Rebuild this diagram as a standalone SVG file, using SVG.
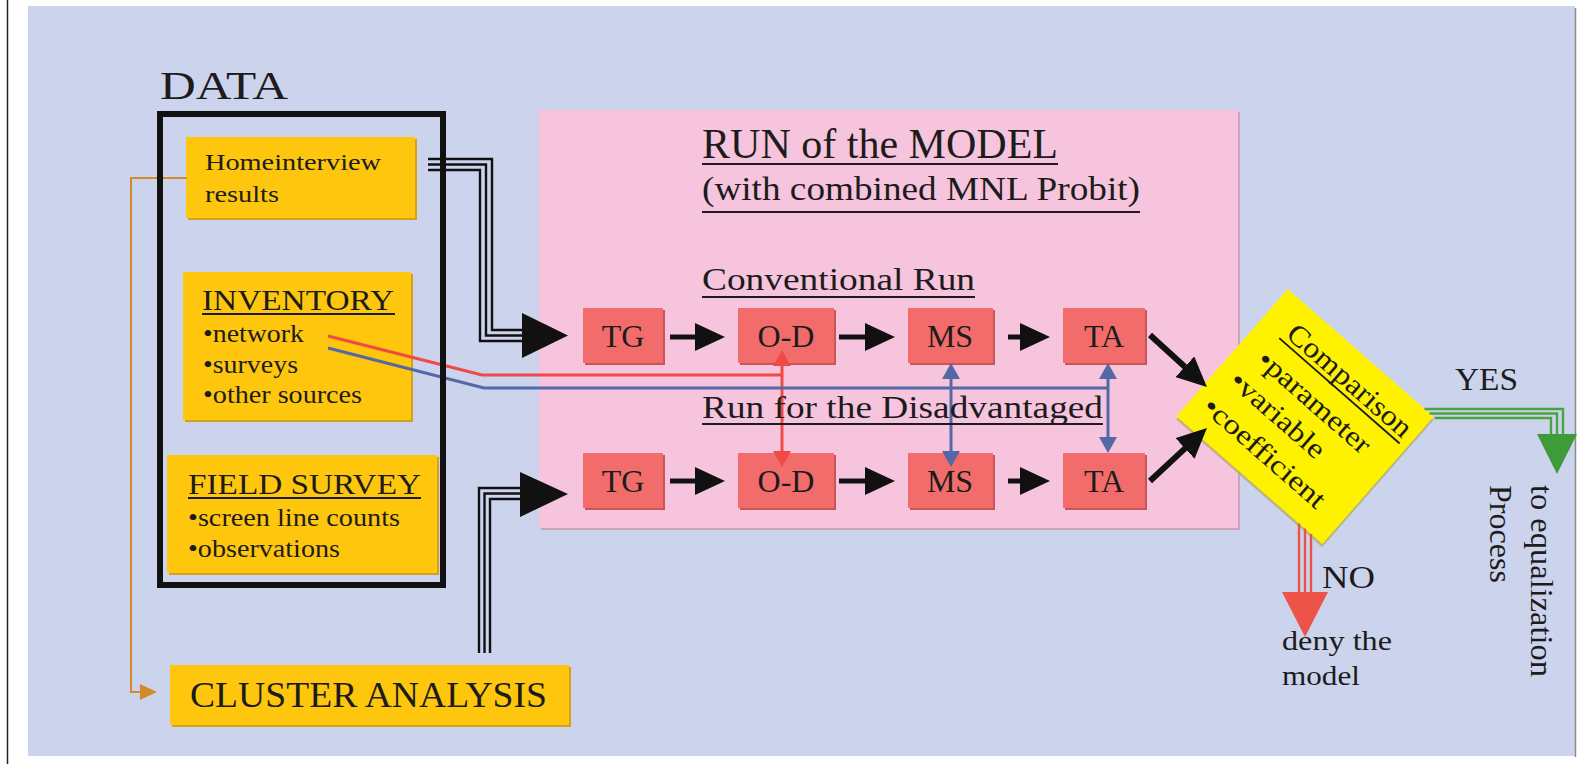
<svg xmlns="http://www.w3.org/2000/svg" width="1590" height="764" viewBox="0 0 1590 764">
  <defs>
    <style>
      text { font-family: "Liberation Serif", "Times New Roman", serif; fill: #1c1c1c; }
      .ybox { fill: #fec60c; }
      .yshadow { fill: #d5a01c; }
      .rbox { fill: #f36c6c; }
      .rshadow { fill: #c85656; }
      .step { font-size: 32px; text-anchor: middle; }
      .item { font-size: 25px; }
      .ul { stroke: #1c1c1c; stroke-width: 1.8; }
      .blk3 { fill: none; stroke: #111; stroke-width: 2.4; }
      .grn3 { fill: none; stroke: #48a43e; stroke-width: 2.4; }
      .red3 { fill: none; stroke: #e9544a; stroke-width: 2.4; }
      .shaft { stroke: #111; stroke-width: 5; marker-end: url(#ah); }
      .redl { fill: none; stroke: #f04a44; stroke-width: 3; }
      .bluel { fill: none; stroke: #5468a6; stroke-width: 3; }
      .redv { stroke: #f04a44; stroke-width: 3; marker-start: url(#rh); marker-end: url(#rh); }
      .bluev { stroke: #5468a6; stroke-width: 3; marker-start: url(#bh); marker-end: url(#bh); }
    </style>
    <marker id="ah" viewBox="0 0 30 28" refX="3" refY="14" markerWidth="30" markerHeight="28" orient="auto" markerUnits="userSpaceOnUse">
      <path d="M0,0 L30,14 L0,28 Z" fill="#111"/>
    </marker>
    <marker id="rh" viewBox="0 0 16 18" refX="2" refY="9" markerWidth="16" markerHeight="18" orient="auto-start-reverse" markerUnits="userSpaceOnUse">
      <path d="M0,0 L16,9 L0,18 Z" fill="#f04a44"/>
    </marker>
    <marker id="bh" viewBox="0 0 16 18" refX="2" refY="9" markerWidth="16" markerHeight="18" orient="auto-start-reverse" markerUnits="userSpaceOnUse">
      <path d="M0,0 L16,9 L0,18 Z" fill="#5468a6"/>
    </marker>
  </defs>

  <!-- sheet -->
  <rect width="1590" height="764" fill="#ffffff"/>
  <line x1="7.5" y1="0" x2="7.5" y2="764" stroke="#222" stroke-width="1.5"/>
  <rect x="28" y="6" width="1547" height="750" fill="#ccd3ed"/>
  <line x1="1575.5" y1="8" x2="1575.5" y2="757" stroke="#8a8a8a" stroke-width="1.5"/>

  <!-- model run panel -->
  <g id="model-panel">
    <rect x="541" y="112" width="699" height="418" fill="#c9a6b9"/>
    <rect x="539" y="110" width="699" height="418" fill="#f6c5dd"/>
  </g>

  <!-- data sources -->
  <g id="data-title">
    <text x="160" y="99" font-size="41" textLength="128" lengthAdjust="spacingAndGlyphs">DATA</text>
  </g>

  <g id="homeinterview">
    <rect class="yshadow" x="188" y="139" width="229" height="81"/>
    <rect class="ybox" x="186" y="137" width="229" height="81"/>
    <text x="205" y="170" font-size="24" textLength="176" lengthAdjust="spacingAndGlyphs">Homeinterview</text>
    <text x="205" y="202" font-size="24" textLength="74" lengthAdjust="spacingAndGlyphs">results</text>
  </g>

  <g id="inventory">
    <rect class="yshadow" x="185" y="274" width="228" height="148"/>
    <rect class="ybox" x="183" y="272" width="228" height="148"/>
    <text x="202" y="310" font-size="30" textLength="192" lengthAdjust="spacingAndGlyphs">INVENTORY</text>
    <line class="ul" x1="202" y1="314" x2="395" y2="314"/>
    <text class="item" x="203" y="342" textLength="101" lengthAdjust="spacingAndGlyphs">•network</text>
    <text class="item" x="203" y="373" textLength="95" lengthAdjust="spacingAndGlyphs">•surveys</text>
    <text class="item" x="203" y="403" textLength="159" lengthAdjust="spacingAndGlyphs">•other sources</text>
  </g>

  <g id="field-survey">
    <rect class="yshadow" x="169" y="457" width="270" height="118"/>
    <rect class="ybox" x="167" y="455" width="270" height="118"/>
    <text x="188" y="494" font-size="29" textLength="233" lengthAdjust="spacingAndGlyphs">FIELD SURVEY</text>
    <line class="ul" x1="188" y1="498" x2="421" y2="498"/>
    <text class="item" x="188" y="526" textLength="212" lengthAdjust="spacingAndGlyphs">•screen line counts</text>
    <text class="item" x="188" y="557" textLength="152" lengthAdjust="spacingAndGlyphs">•observations</text>
  </g>

  <g id="cluster-analysis">
    <rect class="yshadow" x="172" y="667" width="399" height="60"/>
    <rect class="ybox" x="170" y="665" width="399" height="60"/>
    <text x="190" y="707" font-size="35" textLength="357" lengthAdjust="spacingAndGlyphs">CLUSTER ANALYSIS</text>
  </g>

  <!-- model steps, conventional run -->
  <g id="tg-1"><rect class="rshadow" x="585" y="310" width="80" height="55"/><rect class="rbox" x="583" y="308" width="80" height="55"/><text class="step" x="623" y="347">TG</text></g>
  <g id="od-1"><rect class="rshadow" x="740" y="310" width="96" height="55"/><rect class="rbox" x="738" y="308" width="96" height="55"/><text class="step" x="786" y="347">O-D</text></g>
  <g id="ms-1"><rect class="rshadow" x="910" y="310" width="85" height="55"/><rect class="rbox" x="908" y="308" width="85" height="55"/><text class="step" x="950" y="347">MS</text></g>
  <g id="ta-1"><rect class="rshadow" x="1065" y="310" width="82" height="55"/><rect class="rbox" x="1063" y="308" width="82" height="55"/><text class="step" x="1104" y="347">TA</text></g>

  <!-- model steps, run for the disadvantaged -->
  <g id="tg-2"><rect class="rshadow" x="585" y="455" width="80" height="55"/><rect class="rbox" x="583" y="453" width="80" height="55"/><text class="step" x="623" y="492">TG</text></g>
  <g id="od-2"><rect class="rshadow" x="740" y="455" width="96" height="55"/><rect class="rbox" x="738" y="453" width="96" height="55"/><text class="step" x="786" y="492">O-D</text></g>
  <g id="ms-2"><rect class="rshadow" x="910" y="455" width="85" height="55"/><rect class="rbox" x="908" y="453" width="85" height="55"/><text class="step" x="950" y="492">MS</text></g>
  <g id="ta-2"><rect class="rshadow" x="1065" y="455" width="82" height="55"/><rect class="rbox" x="1063" y="453" width="82" height="55"/><text class="step" x="1104" y="492">TA</text></g>

  <!-- decision -->
  <g id="comparison" transform="translate(1305,416.5) rotate(41.2)">
    <rect x="-95" y="-82" width="194" height="169" fill="#b3a85a" opacity="0.7"/>
    <rect x="-97" y="-84.5" width="194" height="169" fill="#fff200"/>
    <text x="-68" y="-47" font-size="29" textLength="156" lengthAdjust="spacingAndGlyphs">Comparison</text>
    <line class="ul" x1="-71" y1="-42" x2="89" y2="-42"/>
    <text x="-73" y="-8" font-size="28" textLength="141" lengthAdjust="spacingAndGlyphs">•parameter</text>
    <text x="-80" y="26" font-size="28" textLength="117" lengthAdjust="spacingAndGlyphs">•variable</text>
    <text x="-83" y="63" font-size="28" textLength="153" lengthAdjust="spacingAndGlyphs">•coefficient</text>
  </g>

  <!-- connectors -->
  <g id="connectors">
    <!-- home interview results into the conventional run -->
    <path class="blk3" d="M428,159 H492 V330 H524"/>
    <path class="blk3" d="M428,164.5 H486 V335.5 H524"/>
    <path class="blk3" d="M428,170 H480 V341 H524"/>
    <polygon points="522,313 568,335.5 522,358" fill="#111"/>

    <!-- cluster analysis into the disadvantaged run -->
    <path class="blk3" d="M479,653 V488 H522"/>
    <path class="blk3" d="M484.5,653 V493.5 H522"/>
    <path class="blk3" d="M490,653 V499 H522"/>
    <polygon points="520,472 568,494 520,517" fill="#111"/>

    <!-- home interview results to cluster analysis -->
    <path d="M187,178 H131 V692 H142" fill="none" stroke="#d4892a" stroke-width="2"/>
    <polygon points="140,684 157,692 140,700" fill="#d4892a"/>

    <!-- step chains -->
    <line class="shaft" x1="670" y1="337" x2="698" y2="337"/>
    <line class="shaft" x1="839" y1="337" x2="868" y2="337"/>
    <line class="shaft" x1="1008" y1="337" x2="1023" y2="337"/>
    <line class="shaft" x1="670" y1="481" x2="698" y2="481"/>
    <line class="shaft" x1="839" y1="481" x2="868" y2="481"/>
    <line class="shaft" x1="1008" y1="481" x2="1023" y2="481"/>

    <!-- both runs into the comparison -->
    <line class="shaft" style="stroke-width:6" x1="1150" y1="335" x2="1187" y2="368.8"/>
    <line class="shaft" style="stroke-width:6" x1="1150" y1="481" x2="1187.2" y2="446.4"/>

    <!-- inventory links between the runs -->
    <path class="redl" d="M328,336 L482,375 H782"/>
    <line class="redv" x1="782" y1="364" x2="782" y2="453"/>
    <path class="bluel" d="M328,348 L484,388 H1108"/>
    <line class="bluev" x1="951" y1="377" x2="951" y2="453"/>
    <line class="bluev" x1="1108" y1="377" x2="1108" y2="439"/>

    <!-- YES branch -->
    <path class="grn3" d="M1424.5,409 H1563 V436"/>
    <path class="grn3" d="M1429.5,413.5 H1557 V436"/>
    <path class="grn3" d="M1434.5,418 H1551 V436"/>
    <polygon points="1537,434 1577,434 1557,474" fill="#3f9a3a"/>

    <!-- NO branch -->
    <path class="red3" d="M1299,523.5 V594"/>
    <path class="red3" d="M1305,528.6 V594"/>
    <path class="red3" d="M1311,534 V594"/>
    <polygon points="1282,592 1328,592 1305,637" fill="#ec5448"/>
  </g>

  <!-- data frame -->
  <g id="data-frame">
    <rect x="160" y="114" width="283" height="471" fill="none" stroke="#111" stroke-width="6"/>
  </g>

  <!-- panel headings -->
  <g id="model-headings">
    <text x="702" y="158" font-size="42" textLength="356" lengthAdjust="spacingAndGlyphs">RUN of the MODEL</text>
    <line class="ul" x1="702" y1="164" x2="1058" y2="164"/>
    <text x="702" y="200" font-size="34" textLength="438" lengthAdjust="spacingAndGlyphs">(with combined MNL Probit)</text>
    <line class="ul" x1="702" y1="212" x2="1140" y2="212"/>
    <text x="702" y="290" font-size="32" textLength="273" lengthAdjust="spacingAndGlyphs">Conventional Run</text>
    <line class="ul" x1="702" y1="297" x2="975" y2="297"/>
    <text x="702" y="418" font-size="32" textLength="401" lengthAdjust="spacingAndGlyphs">Run for the Disadvantaged</text>
    <line class="ul" x1="702" y1="424" x2="1103" y2="424"/>
  </g>

  <!-- outcomes -->
  <g id="yes-label">
    <text x="1455" y="390" font-size="32" textLength="63" lengthAdjust="spacingAndGlyphs">YES</text>
  </g>
  <g id="to-equalization">
    <text transform="translate(1531,485) rotate(90)" font-size="31" textLength="192" lengthAdjust="spacingAndGlyphs">to equalization</text>
    <text transform="translate(1490,485) rotate(90)" font-size="31" textLength="98" lengthAdjust="spacingAndGlyphs">Process</text>
  </g>
  <g id="no-label">
    <text x="1322" y="588" font-size="32" textLength="53" lengthAdjust="spacingAndGlyphs">NO</text>
  </g>
  <g id="deny-model">
    <text x="1282" y="650" font-size="27" textLength="110" lengthAdjust="spacingAndGlyphs">deny the</text>
    <text x="1282" y="685" font-size="27" textLength="78" lengthAdjust="spacingAndGlyphs">model</text>
  </g>
</svg>
